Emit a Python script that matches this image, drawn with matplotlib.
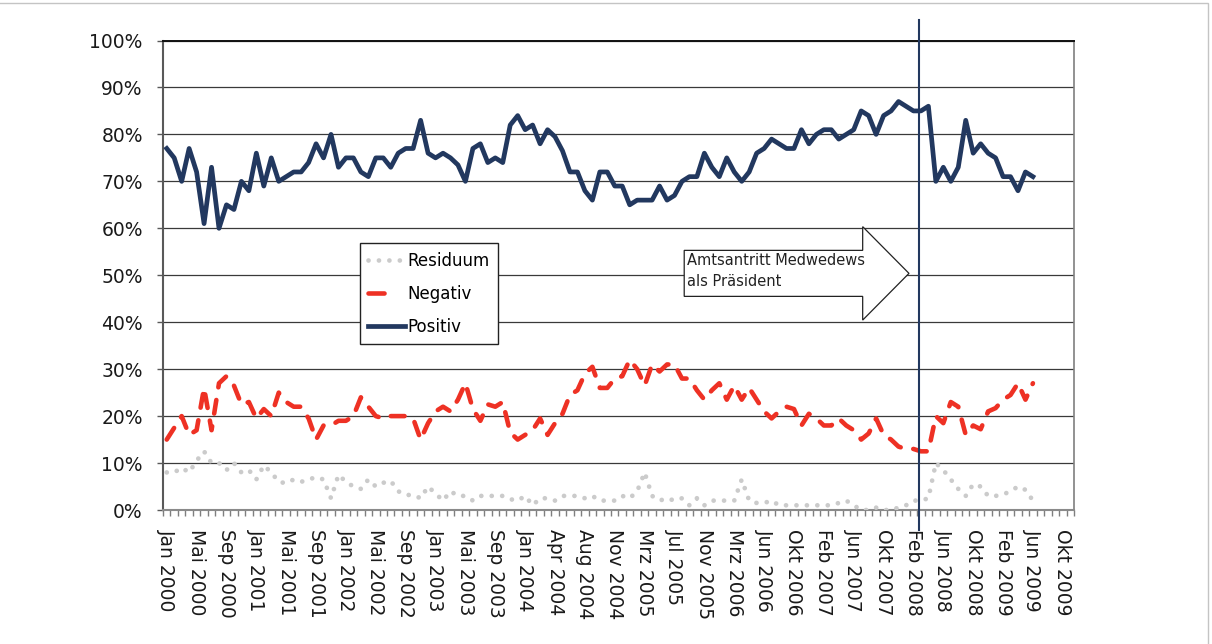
import numpy as np
import matplotlib
matplotlib.use("Agg")
import matplotlib.pyplot as plt
from matplotlib.lines import Line2D
from matplotlib.patches import Polygon, Rectangle

# ── data (% of respondents) ──────────────────────────────────────────────────
tick_labels = [
    "Jan 2000", "Mai 2000", "Sep 2000", "Jan 2001", "Mai 2001", "Sep 2001",
    "Jan 2002", "Mai 2002", "Sep 2002", "Jan 2003", "Mai 2003", "Sep 2003",
    "Jan 2004", "Apr 2004", "Aug 2004", "Nov 2004", "Mrz 2005", "Jul 2005",
    "Nov 2005", "Mrz 2006", "Jun 2006", "Okt 2006", "Feb 2007", "Jun 2007",
    "Okt 2007", "Feb 2008", "Jun 2008", "Okt 2008", "Feb 2009", "Jun 2009",
    "Okt 2009",
]
n_categories = 122
label_every = 4

positiv = [
    77, 75, 70, 77, 72, 61, 73, 60, 65, 64, 70, 68, 76, 69, 75, 70, 71, 72, 72, 74,
    78, 75, 80, 73, 75, 75, 72, 71, 75, 75, 73, 76, 77, 77, 83, 76, 75, 76, 75, 73.5,
    70, 77, 78, 74, 75, 74, 82, 84, 81, 82, 78, 81, 79.5, 76.5, 72, 72, 68, 66, 72, 72,
    69, 69, 65, 66, 66, 66, 69, 66, 67, 70, 71, 71, 76, 73, 71, 75, 72, 70, 72, 76,
    77, 79, 78, 77, 77, 81, 78, 80, 81, 81, 79, 80, 81, 85, 84, 80, 84, 85, 87, 86,
    85, 85, 86, 70, 73, 70, 73, 83, 76, 78, 76, 75, 71, 71, 68, 72, 71,
]
negativ = [
    15, 17.5, 20, 16, 17, 26, 17, 27, 28.5, 26.5, 22.5, 23, 19.5, 21.5, 20, 25, 23, 22, 22, 19.5,
    15, 18, 18, 19, 19, 20, 24, 22, 20, 19.5, 20, 20, 20, 19.5, 15, 18.5, 21, 22, 21, 23.5,
    27, 21.5, 19, 22.5, 22, 23, 16.5, 15, 16, 17, 19.5, 16, 18.5, 20.5, 24.5, 25.5, 29, 30.5, 26, 26,
    28, 28.5, 32, 30, 26.5, 31, 29.5, 31, 31, 28, 28, 25.5, 23.5, 25.5, 27, 23.5, 26.5, 23.5, 26, 23.5,
    21, 19.5, 21, 22, 21.5, 18, 20.5, 19.5, 18, 18, 19.5, 18, 17, 15, 16.3, 19.5, 16, 15, 13.5, 13,
    13, 12.5, 12.5, 20, 18.5, 23, 22, 16, 18, 17.2, 21, 21.7, 23.5, 24.5, 27, 23.5, 27,
]
residuum = [
    8, 8, 9, 8, 10.5, 12.5, 10, 10, 8.5, 10, 8, 8.5, 6.5, 9.5, 8, 6, 5.7, 6.5, 6, 6.5,
    7, 6.5, 2.5, 7.5, 6, 5, 4.5, 6.5, 5, 5.8, 6.2, 4, 3.2, 3.2, 2.5, 5, 3.5, 2, 4, 3,
    3, 2, 3, 3, 3, 3, 2.3, 2, 3, 1, 2.5, 2.5, 2, 3, 3, 3, 2.5, 3, 2, 2,
    2, 3, 2.5, 4, 8, 3, 2, 2.5, 2, 2.5, 1, 2.5, 1, 2, 2, 2, 2, 6.5, 2, 1.5,
    1.5, 2, 1, 1, 1, 1, 1, 1, 1, 1, 1.5, 2, 1, 0, 0, 0.5, 0, 0, 0.5, 1,
    2, 2, 2.5, 10, 8.5, 6.5, 4.5, 3, 5.5, 5, 3, 3, 3.3, 4, 5, 4.3, 2,
]

# annotation: inauguration of Medvedev (category position) and arrow box
medwedew_pos = 100.7
arrow_text = "Amtsantritt Medwedews\nals Präsident"

NAVY = "#22385f"
RED = "#ee3124"
GREY = "#cbcbcb"

fig = plt.figure(figsize=(12.12, 6.44), dpi=100)
ax = fig.add_axes([163 / 1212, 1 - 510 / 644, (1074 - 163) / 1212, (510 - 40.5) / 644])

x = np.arange(len(positiv))
l_res, = ax.plot(x, residuum, color=GREY, lw=3.4, ls=(0, (0.01, 2.2)),
                 dash_capstyle="round", zorder=3)
l_neg, = ax.plot(x, negativ, color=RED, lw=3.3, ls=(0, (3.0, 2.8)),
                 dash_capstyle="round", zorder=4)
l_pos, = ax.plot(x, positiv, color=NAVY, lw=3.4, solid_joinstyle="round", zorder=5)

# vertical marker line, running past the plot area
ax.plot([medwedew_pos, medwedew_pos], [-4.3, 104.3], color=NAVY, lw=1.5,
        clip_on=False, zorder=6)

# block arrow with text
body_l, head_b, tip = 69.3, 93.2, 99.4
yc, body_h, head_h = 50.4, 4.9, 9.95
arrow = Polygon([(body_l, yc - body_h), (head_b, yc - body_h), (head_b, yc - head_h),
                 (tip, yc), (head_b, yc + head_h), (head_b, yc + body_h),
                 (body_l, yc + body_h)],
                closed=True, facecolor="white", edgecolor="#222222", lw=0.9, zorder=2.5)
ax.add_patch(arrow)
ax.text(body_l + 0.4, yc + body_h - 0.6, arrow_text, ha="left", va="top",
        fontsize=10.5, linespacing=1.45, color="#222222", zorder=2.6)

# axes styling
ax.set_xlim(-0.5, n_categories - 0.5)
ax.set_ylim(0, 100)
ax.set_yticks(np.arange(0, 101, 10))
ax.set_yticklabels([f"{v}%" for v in range(0, 101, 10)])
ax.yaxis.grid(True, color="#3a3a3a", lw=0.9, zorder=1)
ax.set_axisbelow(True)

ax.set_xticks(np.arange(0, n_categories, label_every))
ax.set_xticklabels(tick_labels, rotation=270, ha="center", va="top")
ax.set_xticks(np.arange(-0.5, n_categories, 1), minor=True)
ax.tick_params(axis="x", which="major", length=0, pad=14, labelsize=13.5, colors="#1a1a1a")
ax.tick_params(axis="x", which="minor", length=4.5, width=1, color="#7f7f7f")
ax.tick_params(axis="y", which="major", length=4.5, width=1, color="#595959",
               pad=10, labelsize=13.5, labelcolor="#1a1a1a")

ax.spines["top"].set_color("#111111")
ax.spines["top"].set_linewidth(1.4)
ax.spines["right"].set_color("#7f7f7f")
ax.spines["right"].set_linewidth(1.2)
ax.spines["left"].set_color("#595959")
ax.spines["left"].set_linewidth(1.5)
ax.spines["bottom"].set_color("#8a8a8a")
ax.spines["bottom"].set_linewidth(1.5)

neg_handle = Line2D([], [], color=RED, lw=3.3, ls=(0, (3.5, 12)), dash_capstyle="round")
leg = ax.legend([l_res, neg_handle, l_pos], ["Residuum", "Negativ", "Positiv"],
                loc="upper left", bbox_to_anchor=(0.216, 0.568), fontsize=12,
                frameon=True, fancybox=False, framealpha=1, edgecolor="#222222",
                handlelength=2.2, handletextpad=0.15, borderpad=0.5,
                labelspacing=0.9, borderaxespad=0)
leg.get_frame().set_linewidth(1.0)
leg.set_zorder(7)

# thin light frame around the whole picture
fig.patches.append(Rectangle((-0.01, -0.01), 1208 / 1212 + 0.01, 1 - 3 / 644 + 0.01,
                             transform=fig.transFigure, fill=False,
                             edgecolor="#c4c4c4", lw=1))

fig.savefig("out.png", dpi=100)
